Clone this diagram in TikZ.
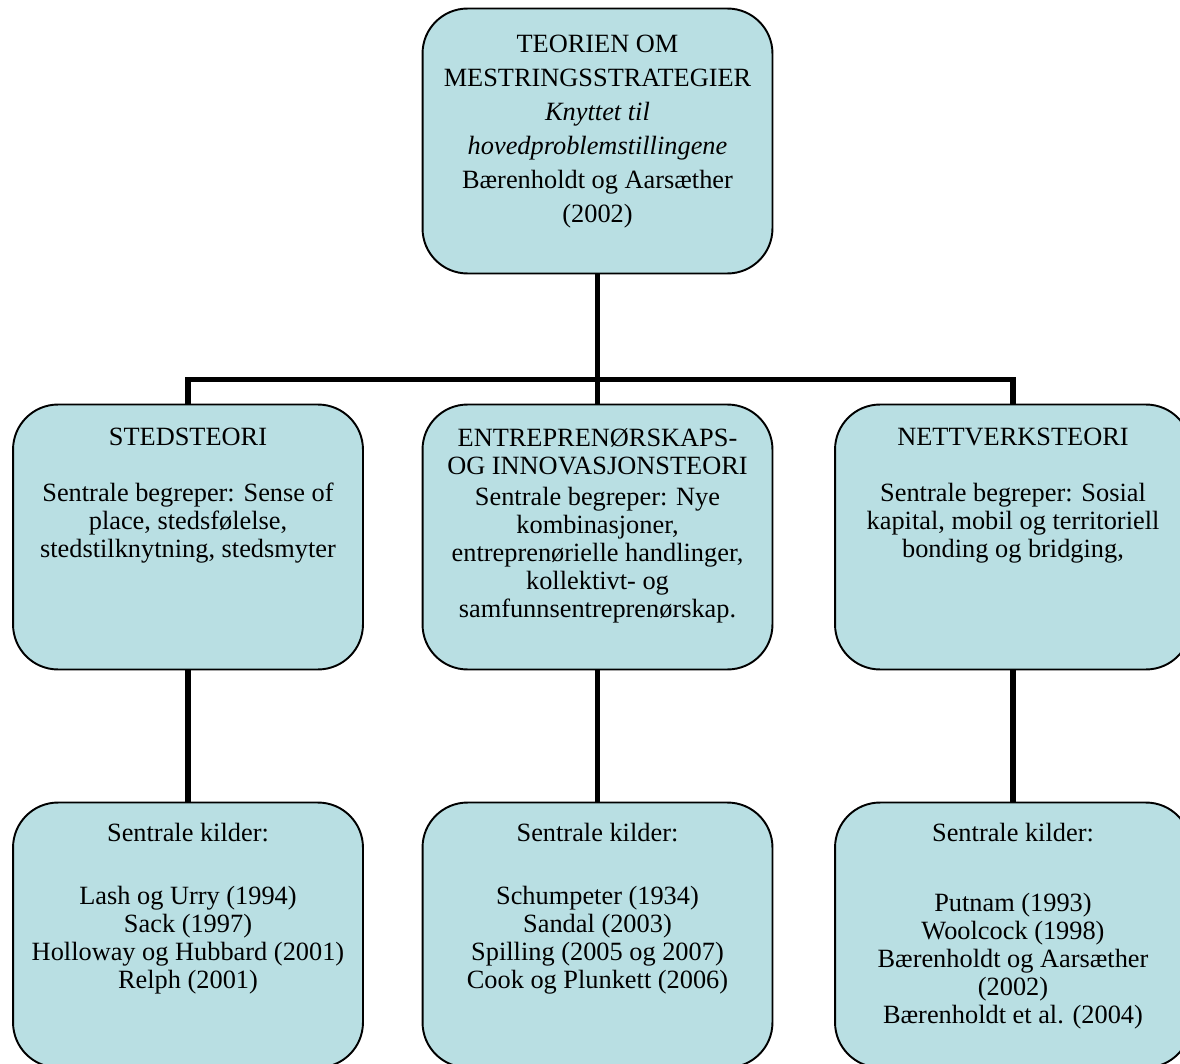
\documentclass[tikz,border=0pt]{standalone}
\usepackage{fontspec}
\setmainfont{Liberation Serif}
\usepackage{xcolor}
\definecolor{boxfill}{HTML}{B9DFE3}
\usetikzlibrary{positioning}
\newcommand{\boxtext}[2][0.4cm]{\begin{minipage}[t][5.3cm][t]{6.9cm}\centering\vspace*{#1}#2\end{minipage}}

\begin{document}
\begin{tikzpicture}[
  x=0.02cm, y=-0.02cm,
  box/.style={draw, fill=boxfill, line width=1.1pt, rounded corners=0.9cm, inner sep=0pt,
    minimum width=7cm, font=\fontsize{15pt}{15.9pt}\selectfont},
  topbox/.style={box, font=\fontsize{15pt}{19.3pt}\selectfont},
  conn/.style={line width=2.9pt},
]
\useasboundingbox (0,0) rectangle (1180,1064);

% Top: the main theory
\node[topbox, minimum height=5.24cm] (top) at (597.5,141) {\boxtext[0.54cm]{TEORIEN OM\\MESTRINGSSTRATEGIER\\\textit{Knyttet til}\\\textit{hovedproblemstillingene}\\Bærenholdt og Aarsæther\\(2002)}};

% Middle row: the three theories
\node[box] (sted) at (188,537) {\boxtext[0.48cm]{STEDSTEORI\\[15.9pt]Sentrale begreper: Sense of\\place, stedsfølelse,\\stedstilknytning, stedsmyter}};
\node[box] (entre) at (597.5,537) {\boxtext[0.48cm]{ENTREPRENØRSKAPS-\\OG INNOVASJONSTEORI\\[2pt]Sentrale begreper: Nye\\kombinasjoner,\\entreprenørielle handlinger,\\kollektivt- og\\samfunnsentreprenørskap.}};
\node[box, minimum width=7.12cm] (nett) at (1013,537) {\boxtext[0.48cm]{NETTVERKSTEORI\\[15.9pt]Sentrale begreper: Sosial\\kapital, mobil og territoriell\\bonding og bridging,}};

% Bottom row: sources
\node[box] (stedkilder) at (188,935) {\boxtext[0.42cm]{Sentrale kilder:\\[19.8pt]Lash og Urry (1994)\\Sack (1997)\\Holloway og Hubbard (2001)\\Relph (2001)}};
\node[box] (entrekilder) at (597.5,935) {\boxtext[0.42cm]{Sentrale kilder:\\[19.8pt]Schumpeter (1934)\\Sandal (2003)\\Spilling (2005 og 2007)\\Cook og Plunkett (2006)}};
\node[box, minimum width=7.12cm] (nettkilder) at (1013,935) {\boxtext[0.42cm]{Sentrale kilder:\\[23.8pt]Putnam (1993)\\Woolcock (1998)\\Bærenholdt og Aarsæther\\(2002)\\Bærenholdt et al. (2004)}};

% Connectors
\draw[conn] (top.south) -- (entre.north);
\draw[conn] (sted.north) -- ++(0,-24) -| (nett.north);
\draw[conn] (sted.south) -- (stedkilder.north);
\draw[conn] (entre.south) -- (entrekilder.north);
\draw[conn] (nett.south) -- (nettkilder.north);

\end{tikzpicture}
\end{document}
